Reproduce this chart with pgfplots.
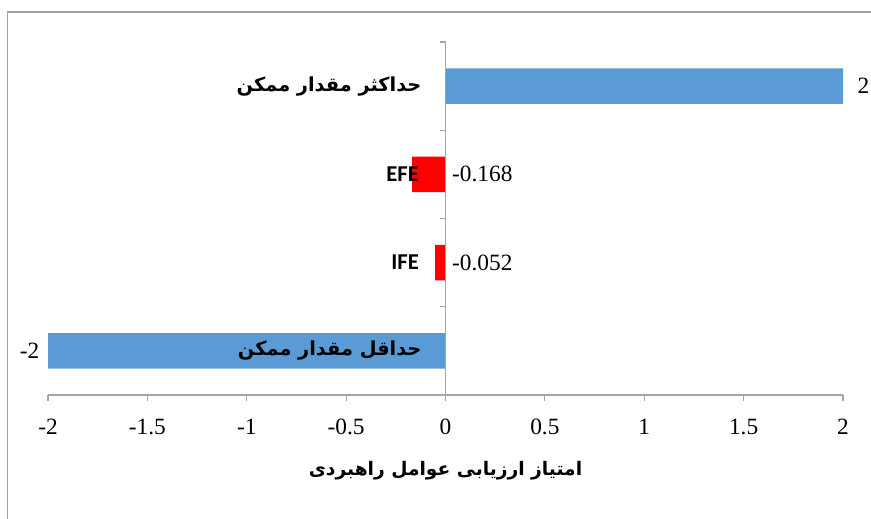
\documentclass[border=0pt]{standalone}
\usepackage{fontspec}
\setmainfont{Liberation Serif}
\newfontfamily\arabicfont[Script=Arabic]{DejaVu Sans}
\newfontfamily\latinbold{Carlito}
\TeXXeTstate=1
\usepackage{pgfplots}
\pgfplotsset{compat=1.18}
\definecolor{barblue}{HTML}{5B9BD5}
\definecolor{barred}{HTML}{FF0000}
\definecolor{axgray}{HTML}{A6A6A6}
\definecolor{framegray}{HTML}{A0A0A0}
\begin{document}
\begin{tikzpicture}
\useasboundingbox (0pt,0pt) rectangle (653.25pt,388.5pt);
\draw[framegray,line width=1.2pt] (5.6pt,-20pt) -- (5.6pt,379.5pt) -- (700pt,379.5pt);
\begin{axis}[
  at={(36pt,92.25pt)}, anchor=south west,
  scale only axis,
  width=596.25pt, height=264.75pt,
  xmin=-2, xmax=2, ymin=-0.5, ymax=3.5,
  axis x line=bottom, axis y line=none,
  axis line style={axgray,line width=0.8pt,-},
  xtick={-2,-1.5,...,2},
  xticklabels={-2,-1.5,-1,-0.5,0,0.5,1,1.5,2},
  xtick align=outside,
  major tick length=4.5pt,
  tick style={axgray,line width=0.8pt},
  ytick=\empty,
  xticklabel style={font=\fontsize{17.5}{20}\selectfont, yshift=-10pt},
  /pgf/number format/assume math mode=true,
  xbar, bar width=0.4, bar shift=0pt,
  clip=false,
  xlabel={\arabicfont\bfseries\fontsize{14}{16}\selectfont\beginR امتیاز ارزیابی عوامل راهبردی\endR},
  xlabel style={yshift=-13pt},
]
\addplot[fill=barblue,draw=none] coordinates {(2,3) (-2,0)};
\addplot[fill=barred,draw=none] coordinates {(-0.168,2) (-0.052,1)};
\draw[axgray,line width=0.8pt] (axis cs:0,-0.5) -- (axis cs:0,3.5);
\pgfplotsinvokeforeach{-0.5,0.5,1.5,2.5,3.5}{
  \draw[axgray,line width=0.8pt] (axis cs:0,#1) -- ++(-4pt,0pt);
}
\node[anchor=east,inner sep=0pt] at (axis cs:-0.12,3) {\arabicfont\bfseries\fontsize{14.5}{17}\selectfont\beginR حداکثر مقدار ممکن\endR};
\node[anchor=east,inner sep=0pt] at (axis cs:-0.12,0) {\arabicfont\bfseries\fontsize{14.5}{17}\selectfont\beginR حداقل مقدار ممکن\endR};
\node[anchor=east] at (axis cs:-0.11,2) {\latinbold\bfseries\fontsize{17}{19}\selectfont EFE};
\node[anchor=east] at (axis cs:-0.11,1) {\latinbold\bfseries\fontsize{17}{19}\selectfont IFE};
\node[anchor=west,font=\fontsize{17.5}{20}\selectfont] at (axis cs:2.05,3) {2};
\node[anchor=east,font=\fontsize{17.5}{20}\selectfont] at (axis cs:-2.02,0) {-2};
\node[anchor=west,font=\fontsize{17.5}{20}\selectfont] at (axis cs:0.01,2) {-0.168};
\node[anchor=west,font=\fontsize{17.5}{20}\selectfont] at (axis cs:0.01,1) {-0.052};
\end{axis}
\end{tikzpicture}
\end{document}
